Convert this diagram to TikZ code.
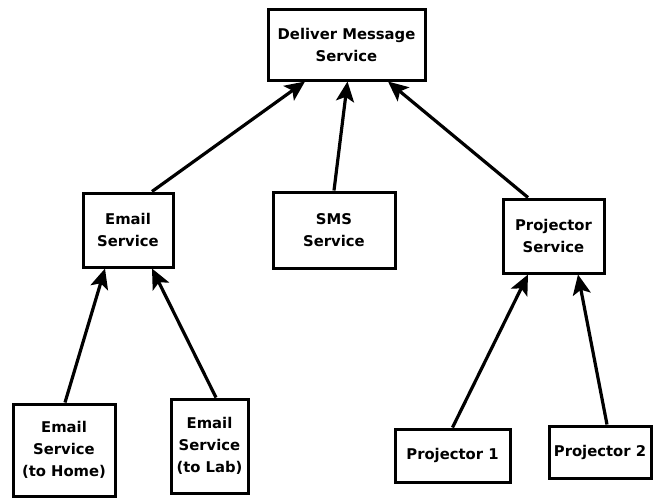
\documentclass[tikz,border=0pt]{standalone}
\usepackage{fontspec}
\setmainfont{DejaVu Sans}
\usetikzlibrary{arrows.meta}
\begin{document}
\begin{tikzpicture}[x=1pt,y=-1pt,
  svc/.style={draw, line width=3pt, fill=white, align=center,
    inner sep=0pt, font=\fontsize{14.8}{22}\selectfont\bfseries},
  arr/.style={line width=3.2pt, -{Stealth[length=20pt,width=18pt,inset=4.5pt]}}]
  \useasboundingbox (0,0) rectangle (654,499);

  % services
  \node[svc, minimum width=157pt, minimum height=71pt] (deliver) at (346.5,44.5) {Deliver Message\\Service};
  \node[svc, minimum width=90pt, minimum height=74pt] (email) at (128,230) {Email\\Service};
  \node[svc, minimum width=122pt, minimum height=76pt] (sms) at (334,230) {SMS\\Service};
  \node[svc, minimum width=101pt, minimum height=74pt] (projsvc) at (553.5,236) {Projector\\Service};

  % leaves
  \node[svc, minimum width=102pt, minimum height=92pt] (ehome) at (64,450) {Email\\Service\\(to Home)};
  \node[svc, minimum width=77pt, minimum height=94pt] (elab) at (209.5,446) {Email\\Service\\(to Lab)};
  \node[svc, minimum width=115pt, minimum height=53pt] (proj1) at (452.5,455.5) {Projector 1};
  \node[svc, minimum width=102pt, minimum height=52pt] (proj2) at (600,452) {Projector 2};

  % dependencies
  \draw[arr] ([xshift=24pt]email.north) -- ([xshift=-41.5pt]deliver.south);
  \draw[arr] (sms.north) -- ([xshift=1pt]deliver.south);
  \draw[arr] ([xshift=-25.5pt]projsvc.north) -- ([xshift=41.5pt]deliver.south);

  \draw[arr] ([xshift=1pt]ehome.north) -- ([xshift=-23pt]email.south);
  \draw[arr] ([xshift=6.5pt]elab.north) -- ([xshift=24pt]email.south);

  \draw[arr] (proj1.north) -- ([xshift=-25.5pt]projsvc.south);
  \draw[arr] ([xshift=7pt]proj2.north) -- ([xshift=24.5pt]projsvc.south);
\end{tikzpicture}
\end{document}
